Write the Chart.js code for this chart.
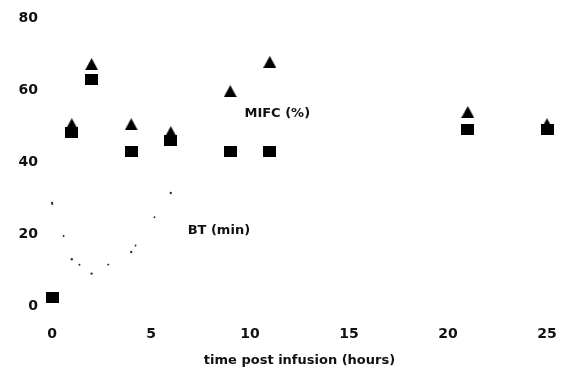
<!DOCTYPE html>
<html>
<head>
<meta charset="utf-8">
<script src="https://cdn.jsdelivr.net/npm/chart.js@4.4.1/dist/chart.umd.min.js"></script>
<style>
  html, body { margin: 0; padding: 0; background: #fff; }
  #wrap { width: 564px; height: 373px; }
</style>
</head>
<body>
<div id="wrap"><canvas id="chart"></canvas></div>
<script>
// time post infusion (hours)
const hours = [0, 1, 2, 4, 6, 9, 11, 21, 25];
const mifcSquares = [2.5, 48.3, 62.9, 42.9, 46.1, 43, 43, 48.9, 48.9];
const mifcTriHours = [1, 2, 4, 6, 9, 11, 21, 25];
const mifcTriangles = [50.5, 67.2, 50.5, 48.3, 59.7, 67.8, 53.9, 50.5];
const btHours = [0, 1, 2, 4, 6];
const btValues = [28.6, 13, 9, 15, 31.4];
const xTicks = [0, 5, 10, 15, 20, 25];
const yTicks = [0, 20, 40, 60, 80];

function makeSquare() {
    const c = document.createElement('canvas');
    c.width = 13; c.height = 11;
    const g = c.getContext('2d');
    g.fillStyle = '#000';
    g.fillRect(0, 0, 13, 11);
    return c;
}

function makeTriangle() {
    const c = document.createElement('canvas');
    c.width = 13; c.height = 12;
    const g = c.getContext('2d');
    g.fillStyle = '#000';
    g.beginPath();
    g.moveTo(6.5, 0);
    g.lineTo(13, 12);
    g.lineTo(0, 12);
    g.closePath();
    g.fill();
    return c;
}

const toPoints = (xs, ys) => xs.map((x, i) => ({ x: x, y: ys[i] }));

const labelPlugin = {
    id: 'seriesLabels',
    afterDraw(chart) {
        const ctx = chart.ctx;
        const xs = chart.scales.x, ys = chart.scales.y;
        ctx.save();
        ctx.fillStyle = '#111';
        ctx.font = 'bold 13px "DejaVu Sans"';
        ctx.textBaseline = 'middle';
        ctx.fillText('MIFC (%)', xs.getPixelForValue(9.72), ys.getPixelForValue(53.3));
        ctx.fillText('BT (min)', xs.getPixelForValue(6.85), ys.getPixelForValue(21));
        ctx.restore();
    }
};

new Chart(document.getElementById('chart'), {
    type: 'scatter',
    data: {
        datasets: [
            {
                label: 'BT (min)',
                data: toPoints(btHours, btValues),
                showLine: true,
                borderColor: '#333',
                borderWidth: 1.5,
                borderDash: [2, 32],
                pointRadius: 1.2,
                pointBackgroundColor: '#333',
                pointBorderWidth: 0
            },
            {
                label: 'MIFC squares',
                data: toPoints(hours, mifcSquares),
                pointStyle: makeSquare(),
                pointRadius: 7
            },
            {
                label: 'MIFC triangles',
                data: toPoints(mifcTriHours, mifcTriangles),
                pointStyle: makeTriangle(),
                pointRadius: 7
            }
        ]
    },
    options: {
        responsive: true,
        maintainAspectRatio: false,
        animation: false,
        clip: false,
        layout: { padding: { top: 18, right: 17, left: 0, bottom: 0 } },
        plugins: { legend: { display: false }, tooltip: { enabled: false } },
        scales: {
            x: {
                type: 'linear',
                min: 0,
                max: 25,
                afterFit: (scale) => {
                    scale.height = 67;
                    scale.paddingLeft = 0;
                    scale.paddingRight = 0;
                },
                afterBuildTicks: (scale) => { scale.ticks = xTicks.map(v => ({ value: v })); },
                grid: { display: false, drawTicks: false },
                border: { display: false },
                ticks: { color: '#111', padding: 20, font: { family: 'DejaVu Sans', size: 14, weight: 'bold' } },
                title: {
                    display: true,
                    text: 'time post infusion (hours)',
                    color: '#111',
                    padding: { top: 0, bottom: 5 },
                    font: { family: 'DejaVu Sans', size: 13, weight: 'bold' }
                }
            },
            y: {
                min: 0,
                max: 80,
                afterFit: (scale) => {
                    scale.width = 52;
                    scale.paddingTop = 0;
                    scale.paddingBottom = 0;
                },
                afterBuildTicks: (scale) => { scale.ticks = yTicks.map(v => ({ value: v })); },
                grid: { display: false, drawTicks: false },
                border: { display: false },
                ticks: { color: '#111', padding: 14, font: { family: 'DejaVu Sans', size: 14, weight: 'bold' } }
            }
        }
    },
    plugins: [labelPlugin]
});
</script>
</body>
</html>
